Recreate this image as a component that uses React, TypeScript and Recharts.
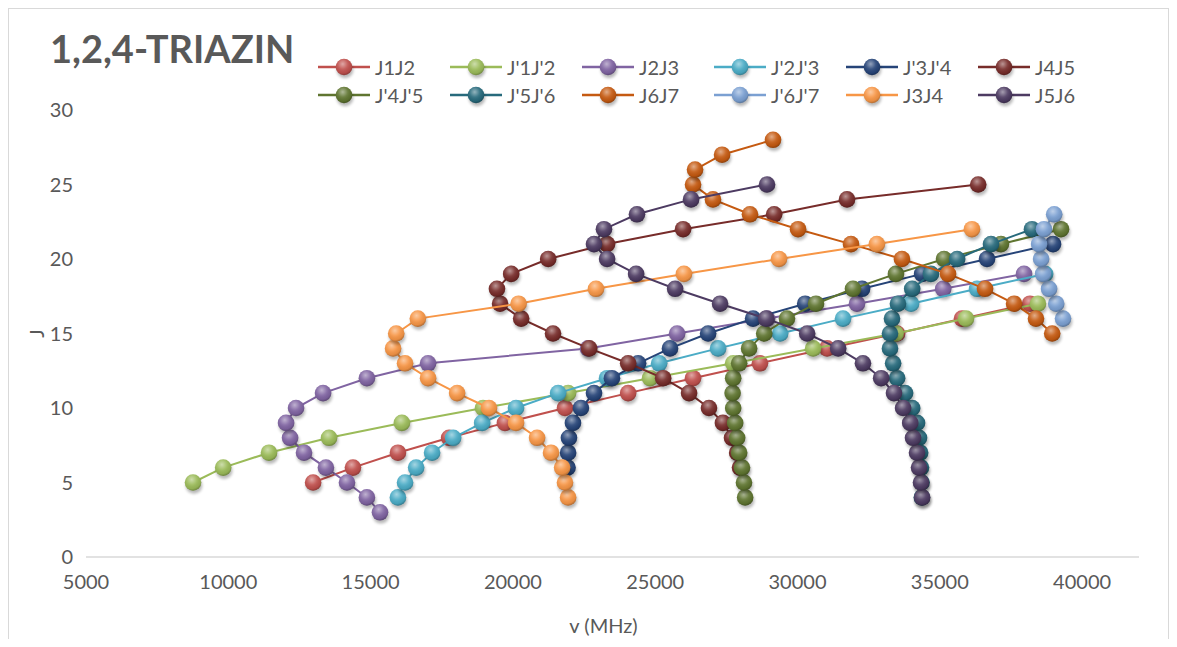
import React from "react";
import { Label, Scatter, ScatterChart, XAxis, YAxis } from "recharts";

type Pt = [number, number]; // [v (MHz), J]

const X_TICKS = [5000, 10000, 15000, 20000, 25000, 30000, 35000, 40000];
const Y_TICKS = [0, 5, 10, 15, 20, 25, 30];

const J1J2: Pt[] = [
  [12980, 5], [14380, 6], [15960, 7], [17760, 8], [19720, 9], [21830, 10], [24050, 11],
  [26330, 12], [28680, 13], [31040, 14], [33500, 15], [35780, 16], [38170, 17],
];
const J1J2_P: Pt[] = [
  [8760, 5], [9820, 6], [11430, 7], [13540, 8], [16100, 9], [18950, 10], [21940, 11],
  [24820, 12], [27740, 13], [30550, 14], [33450, 15], [35920, 16], [38450, 17],
];
const J2J3: Pt[] = [
  [15330, 3], [14870, 4], [14170, 5], [13430, 6], [12660, 7], [12170, 8], [12030, 9],
  [12380, 10], [13330, 11], [14870, 12], [17020, 13], [22640, 14], [25770, 15], [28930, 16],
  [32090, 17], [35120, 18], [37960, 19],
];
const J2J3_P: Pt[] = [
  [15960, 4], [16210, 5], [16600, 6], [17160, 7], [17900, 8], [18920, 9], [20110, 10],
  [21590, 11], [23310, 12], [25140, 13], [27210, 14], [29390, 15], [31600, 16], [33990, 17],
  [36310, 18], [38700, 19],
];
const J3J4_P: Pt[] = [
  [21920, 6], [21940, 7], [21970, 8], [22110, 9], [22390, 10], [22850, 11], [23480, 12],
  [24400, 13], [25520, 14], [26860, 15], [28440, 16], [30270, 17], [32270, 18], [34380, 19],
  [36660, 20], [38980, 21],
];
const J4J5: Pt[] = [
  [27980, 6], [27880, 7], [27700, 8], [27380, 9], [26890, 10], [26190, 11], [25280, 12],
  [24050, 13], [22680, 14], [21410, 15], [20290, 16], [19550, 17], [19440, 18], [19940, 19],
  [21240, 20], [23310, 21], [25980, 22], [29180, 23], [31740, 24], [36350, 25],
];
const J4J5_P: Pt[] = [
  [28160, 4], [28120, 5], [28050, 6], [27950, 7], [27880, 8], [27810, 9], [27740, 10],
  [27720, 11], [27740, 12], [27950, 13], [28300, 14], [28830, 15], [29630, 16], [30650, 17],
  [31950, 18], [33460, 19], [35150, 20], [37150, 21], [39260, 22],
];
const J5J6_P: Pt[] = [
  [34370, 4], [34360, 5], [34340, 6], [34310, 7], [34270, 8], [34200, 9], [34030, 10],
  [33780, 11], [33500, 12], [33360, 13], [33250, 14], [33250, 15], [33320, 16], [33530, 17],
  [34030, 18], [34690, 19], [35610, 20], [36800, 21], [38240, 22],
];
const J6J7: Pt[] = [
  [38950, 15], [38380, 16], [37610, 17], [36590, 18], [35290, 19], [33670, 20], [31880, 21],
  [30020, 22], [28330, 23], [27030, 24], [26330, 25], [26400, 26], [27350, 27], [29140, 28],
];
const J6J7_P: Pt[] = [
  [39330, 16], [39090, 17], [38840, 18], [38630, 19], [38560, 20], [38490, 21], [38660, 22],
  [39020, 23],
];
const J3J4: Pt[] = [
  [21940, 4], [21830, 5], [21730, 6], [21340, 7], [20850, 8], [20110, 9], [19160, 10],
  [18040, 11], [17020, 12], [16210, 13], [15790, 14], [15900, 15], [16660, 16], [20200, 17],
  [22920, 18], [26010, 19], [29350, 20], [32790, 21], [36130, 22],
];
const J5J6: Pt[] = [
  [34380, 4], [34340, 5], [34270, 6], [34200, 7], [34060, 8], [33960, 9], [33710, 10],
  [33390, 11], [32940, 12], [32300, 13], [31430, 14], [30340, 15], [28900, 16], [27280, 17],
  [25700, 18], [24330, 19], [23310, 20], [22850, 21], [23200, 22], [24360, 23], [26260, 24],
  [28930, 25],
];

const SERIES = [
  { name: "J1J2", color: "#C0504D", points: J1J2 },
  { name: "J'1J'2", color: "#9BBB59", points: J1J2_P },
  { name: "J2J3", color: "#8064A2", points: J2J3 },
  { name: "J'2J'3", color: "#4BACC6", points: J2J3_P },
  { name: "J'3J'4", color: "#264478", points: J3J4_P },
  { name: "J4J5", color: "#772C2A", points: J4J5 },
  { name: "J'4J'5", color: "#5F7530", points: J4J5_P },
  { name: "J'5J'6", color: "#276A7C", points: J5J6_P },
  { name: "J6J7", color: "#C55A11", points: J6J7 },
  { name: "J'6J'7", color: "#7BA0D2", points: J6J7_P },
  { name: "J3J4", color: "#F79646", points: J3J4 },
  { name: "J5J6", color: "#4D3B62", points: J5J6 },
];

const TEXT = "#595959";
const FONT = "Lato, 'Open Sans', sans-serif";
const AXIS_TICK = { fill: TEXT, fontSize: 20, fontFamily: FONT };
const DOT_R = 8.3;

// round marker with a soft drop shadow and a glossy highlight
function GlossyDot({ cx, cy, fill }: { cx?: number; cy?: number; fill?: string }) {
  if (cx == null || cy == null) return null;
  return (
    <g>
      <circle cx={cx + 1} cy={cy + 3} r={DOT_R} fill="#000" opacity={0.28} filter="url(#dotShadow)" />
      <circle cx={cx} cy={cy} r={DOT_R} fill={fill} />
      <circle cx={cx} cy={cy} r={DOT_R} fill="url(#dotGloss)" />
    </g>
  );
}

function LegendBlock() {
  return (
    <div style={{ position: "absolute", left: 309, top: 44, width: 800, display: "flex", flexWrap: "wrap" }}>
      {SERIES.map((s) => (
        <div key={s.name} style={{ width: 132, height: 28, display: "flex", alignItems: "center" }}>
          <svg width={52} height={24} style={{ overflow: "visible" }}>
            <line x1={0} x2={52} y1={12} y2={12} stroke={s.color} strokeWidth={2.5} />
            <GlossyDot cx={26} cy={12} fill={s.color} />
          </svg>
          <span style={{ marginLeft: 5, fontSize: 20, color: TEXT, fontFamily: FONT, whiteSpace: "nowrap" }}>{s.name}</span>
        </div>
      ))}
    </div>
  );
}

export default function App() {
  return (
    <div
      style={{
        position: "relative",
        width: 1161,
        height: 631,
        overflow: "hidden",
        boxSizing: "border-box",
        borderTop: "1px solid #D9D9D9",
        borderLeft: "1px solid #D9D9D9",
        borderRight: "1px solid #D9D9D9",
        background: "#fff",
        fontFamily: FONT,
      }}
    >
      <div style={{ position: "absolute", left: 41, top: 16, fontSize: 38, fontWeight: 700, color: TEXT, fontFamily: FONT }}>
        1,2,4-TRIAZIN
      </div>
      <LegendBlock />
      <ScatterChart width={1159} height={630} margin={{ top: 101, right: 29, bottom: 12, left: 17 }}>
        <defs>
          <radialGradient id="dotGloss" cx="42%" cy="32%" r="68%">
            <stop offset="0%" stopColor="#fff" stopOpacity={0.5} />
            <stop offset="45%" stopColor="#fff" stopOpacity={0.1} />
            <stop offset="80%" stopColor="#000" stopOpacity={0.06} />
            <stop offset="100%" stopColor="#000" stopOpacity={0.28} />
          </radialGradient>
          <filter id="dotShadow" x="-60%" y="-60%" width="220%" height="220%">
            <feGaussianBlur stdDeviation="1.6" />
          </filter>
        </defs>
        <XAxis
          type="number"
          dataKey="v"
          domain={[5000, 42000]}
          ticks={X_TICKS}
          allowDataOverflow
          tickLine={false}
          tickSize={0}
          tickMargin={18}
          height={70}
          axisLine={{ stroke: "#D9D9D9", strokeWidth: 1.5 }}
          tick={AXIS_TICK}
        >
          <Label value="v (MHz)" position="insideBottom" offset={-6} dx={-9} fill={TEXT} fontSize={20} fontFamily={FONT} />
        </XAxis>
        <YAxis
          type="number"
          dataKey="j"
          domain={[0, 30]}
          ticks={Y_TICKS}
          axisLine={false}
          tickLine={false}
          tickSize={0}
          tickMargin={13}
          width={60}
          tick={AXIS_TICK}
        >
          <Label
            value="J"
            angle={-90}
            position="insideLeft"
            offset={0}
            dx={11}
            fill={TEXT}
            fontSize={20}
            fontFamily={FONT}
            style={{ textAnchor: "middle" }}
          />
        </YAxis>
        {SERIES.map((s) => (
          <Scatter
            key={s.name}
            name={s.name}
            data={s.points.map(([v, j]) => ({ v, j }))}
            fill={s.color}
            line={{ stroke: s.color, strokeWidth: 2 }}
            lineType="joint"
            shape={GlossyDot}
            isAnimationActive={false}
          />
        ))}
      </ScatterChart>
    </div>
  );
}
